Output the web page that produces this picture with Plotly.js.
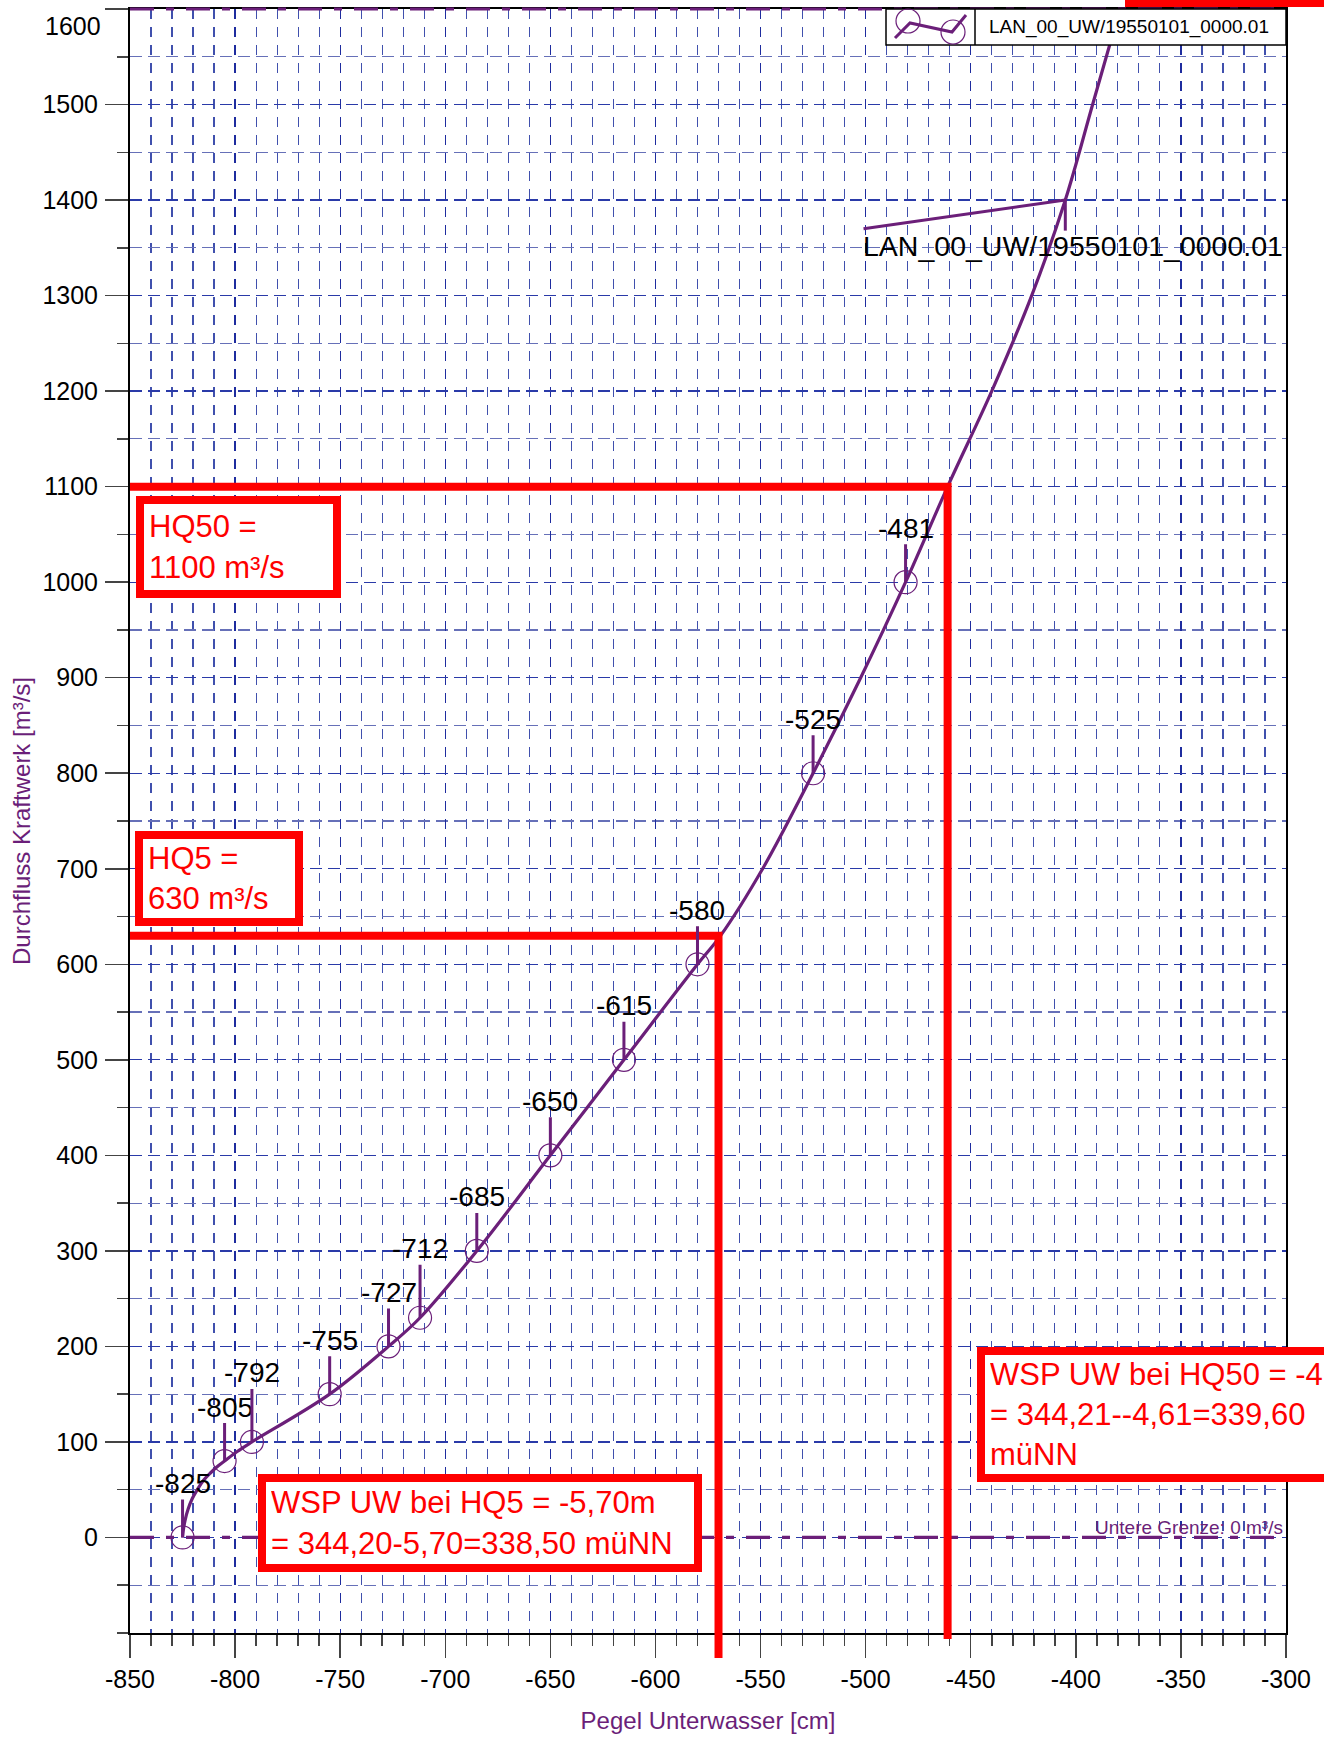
<!DOCTYPE html>
<html><head><meta charset="utf-8">
<script src="https://cdn.plot.ly/plotly-3.0.1.min.js"></script>
<style>html,body{margin:0;padding:0;background:#fff;} #chart{width:1324px;height:1738px;}</style>
</head><body><div id="chart"></div>
<script>
// ---- data ----
const pointPegel = [-825, -805, -792, -755, -727, -712, -685, -650, -615, -580, -525, -481];
const pointQ     = [0, 80, 100, 150, 200, 230, 300, 400, 500, 600, 800, 1000];
const curvePegel = [-825, -824.6, -823.8, -822.3, -820.3, -818, -815, -811.5, -808, -805, -799, -792, -755, -727, -712, -685, -650, -615, -580, -569, -549, -525, -503, -481, -461, -440, -421, -405, -392, -379];
const curveQ     = [0, 8, 18, 30, 41, 50, 60, 68, 75, 80, 90, 100, 150, 200, 230, 300, 400, 500, 600, 630, 700, 800, 897, 1000, 1100, 1200, 1300, 1400, 1500, 1600];
const xTicks = [-850, -800, -750, -700, -650, -600, -550, -500, -450, -400, -350, -300];
const yTicks = [0, 100, 200, 300, 400, 500, 600, 700, 800, 900, 1000, 1100, 1200, 1300, 1400, 1500, 1600];
const hq5Q = 630, hq5Pegel = -570;
const hq50Q = 1100, hq50Pegel = -461;
const leaderPegel = -405, leaderQ = 1400;
const lowerLimitQ = 0, upperLimitQ = 1600;
const seriesName = 'LAN_00_UW/19550101_0000.01';
const longLiftLabels = [-792, -712];

// ---- style ----
const PURPLE = '#6b1f79';
const RED = '#ff0000';
const SANS = 'Liberation Sans, Arial, sans-serif';
const X0 = -850, X1 = -300, Y0 = -100, Y1 = 1600;
const L = 130, T = 9, W = 1156, H = 1624;
const px = v => (v - L) / W;        // pixel -> paper x
const py = v => (T + H - v) / H;    // pixel -> paper y
const qToPaper = q => (q - Y0) / (Y1 - Y0);
const TICKFONT = {family: SANS, size: 25, color: '#000'};

const traces = [
  {x: curvePegel, y: curveQ, type: 'scatter', mode: 'lines',
   line: {color: PURPLE, width: 3.2, shape: 'spline', smoothing: 1}, hoverinfo: 'skip'},
  {x: pointPegel, y: pointQ, type: 'scatter', mode: 'markers',
   marker: {symbol: 'circle-open', size: 23, color: PURPLE, line: {width: 1.2, color: PURPLE}}, cliponaxis: false}
];

const annotations = pointPegel.map((x, i) => ({
  x: x, y: pointQ[i], xref: 'x', yref: 'y', text: String(x),
  showarrow: true, arrowhead: 0, arrowwidth: 3, arrowcolor: PURPLE,
  ax: 0, ay: longLiftLabels.includes(x) ? -69 : -54, standoff: 0, borderpad: 0,
  font: {family: SANS, size: 28, color: '#000'}
}));

function redBox(text, left, top, w, h) {
  return {xref: 'paper', yref: 'paper', x: px(left), y: py(top), xanchor: 'left', yanchor: 'top',
    text: text, showarrow: false, align: 'left', valign: 'middle', width: w, height: h,
    bgcolor: '#ffffff', bordercolor: RED, borderwidth: 8, borderpad: 5,
    font: {family: SANS, size: 31, color: RED}};
}
annotations.push(redBox('HQ50 =<br>1100 m³/s', 136, 496, 179, 76));
annotations.push(redBox('HQ5 =<br>630 m³/s', 135, 831, 142, 69));
annotations.push(redBox('WSP UW bei HQ5 = -5,70m<br>= 344,20-5,70=338,50 müNN', 258, 1474, 418, 72));
annotations.push(redBox('WSP UW bei HQ50 = -4,61m<br>= 344,21--4,61=339,60<br>müNN', 977, 1347, 420, 109));

annotations.push({x: X1, y: lowerLimitQ, xref: 'x', yref: 'y', xanchor: 'right', yanchor: 'bottom',
  text: 'Untere Grenze: 0 m³/s', showarrow: false, borderpad: 0, xshift: -2, yshift: -2,
  font: {family: SANS, size: 19, color: PURPLE}});
annotations.push({x: -501, y: 1370, xref: 'x', yref: 'y', xanchor: 'left', yanchor: 'top',
  text: seriesName, showarrow: false, borderpad: 0, xshift: -2,
  font: {family: SANS, size: 28.5, color: '#000'}});
annotations.push({x: px(988), y: py(27), xref: 'paper', yref: 'paper', xanchor: 'left', yanchor: 'middle',
  text: seriesName, showarrow: false, borderpad: 0,
  font: {family: SANS, size: 19, color: '#000'}});
// top tick label, shifted down inside the page as in the reference
annotations.push({x: px(102), y: py(26), xref: 'paper', yref: 'paper', xanchor: 'right', yanchor: 'middle',
  text: String(yTicks[yTicks.length - 1]), showarrow: false, borderpad: 0, font: TICKFONT});

const limitDash = '24px,12px,8px,12px';
const shapes = [
  {type: 'line', xref: 'x', yref: 'y', x0: X0, x1: X1, y0: lowerLimitQ, y1: lowerLimitQ, line: {color: PURPLE, width: 3.2, dash: limitDash}},
  {type: 'line', xref: 'x', yref: 'paper', x0: X0, x1: X1, y0: qToPaper(upperLimitQ), y1: qToPaper(upperLimitQ), line: {color: PURPLE, width: 3.2, dash: limitDash}},
  // HQ50 guide
  {type: 'path', xref: 'x', yref: 'y', path: `M ${X0},${hq50Q} L ${hq50Pegel},${hq50Q} L ${hq50Pegel},${Y0}`, line: {color: RED, width: 8}},
  {type: 'line', xref: 'x', yref: 'paper', x0: hq50Pegel, x1: hq50Pegel, y0: 0, y1: py(1639), line: {color: RED, width: 8}},
  // HQ5 guide
  {type: 'path', xref: 'x', yref: 'y', path: `M ${X0},${hq5Q} L ${hq5Pegel},${hq5Q} L ${hq5Pegel},${Y0}`, line: {color: RED, width: 8}},
  {type: 'line', xref: 'x', yref: 'paper', x0: hq5Pegel, x1: hq5Pegel, y0: 0, y1: py(1658), line: {color: RED, width: 8}},
  // leader to the curve label
  {type: 'line', xref: 'x', yref: 'y', x0: leaderPegel, y0: leaderQ, x1: -501, y1: 1370, line: {color: PURPLE, width: 3}},
  {type: 'line', xref: 'x', yref: 'y', x0: leaderPegel, y0: leaderQ, x1: leaderPegel, y1: 1368, line: {color: PURPLE, width: 3}},
  // legend box
  {type: 'rect', xref: 'paper', yref: 'paper', x0: px(886), x1: 1, y0: py(45), y1: 1, fillcolor: '#fff', line: {color: '#000', width: 1.5}},
  {type: 'line', xref: 'paper', yref: 'paper', x0: px(975), x1: px(975), y0: py(45), y1: 1, line: {color: '#000', width: 1.5}},
  {type: 'path', xref: 'paper', yref: 'paper',
   path: `M ${px(895)},${py(38)} L ${px(910)},${py(23)} L ${px(952)},${py(32)} L ${px(966)},${py(15)}`, line: {color: PURPLE, width: 3}},
  {type: 'circle', xref: 'paper', yref: 'paper', x0: px(896), x1: px(920), y0: py(33), y1: py(9), line: {color: PURPLE, width: 1.2}},
  {type: 'circle', xref: 'paper', yref: 'paper', x0: px(941), x1: px(965), y0: py(44), y1: py(20), line: {color: PURPLE, width: 1.2}},
  // red band cut at top-right edge
  {type: 'rect', xref: 'paper', yref: 'paper', x0: px(1125), x1: px(1340), y0: py(7), y1: py(-10), fillcolor: RED, line: {width: 0}}
];

const layout = {
  width: 1324, height: 1738,
  margin: {l: L, r: 1324 - L - W, t: T, b: 1738 - T - H},
  paper_bgcolor: '#fff', plot_bgcolor: '#fff',
  showlegend: false,
  xaxis: {
    range: [X0, X1], tickmode: 'array', tickvals: xTicks, ticktext: xTicks.map(String),
    ticks: 'outside', ticklen: 23, tickwidth: 1.5, tickcolor: '#444', ticklabeloverflow: 'allow',
    showline: true, linecolor: '#000', linewidth: 2, mirror: true, zeroline: false,
    showgrid: true, gridcolor: '#1e2c9e', gridwidth: 1.3, griddash: '10px,8px',
    tickfont: TICKFONT,
    minor: {tickmode: 'linear', tick0: X0, dtick: 10, ticks: 'outside', ticklen: 11, tickwidth: 1.5, tickcolor: '#444',
            showgrid: true, gridcolor: '#4050ad', gridwidth: 1.2, griddash: '10px,8px'},
    title: {text: 'Pegel Unterwasser [cm]', font: {family: SANS, size: 24, color: PURPLE}, standoff: 20}
  },
  yaxis: {
    range: [Y0, Y1], tickmode: 'array', tickvals: yTicks,
    ticktext: yTicks.map((v, i) => i === yTicks.length - 1 ? '' : String(v)),
    ticks: 'outside', ticklen: 23, tickwidth: 1.5, tickcolor: '#444', ticklabelstandoff: 2,
    showline: true, linecolor: '#000', linewidth: 2, mirror: true, zeroline: false,
    showgrid: true, gridcolor: '#2a3aa8', gridwidth: 1.3, griddash: '12px,6px',
    tickfont: TICKFONT,
    minor: {tickmode: 'linear', tick0: 0, dtick: 50, ticks: 'outside', ticklen: 11, tickwidth: 1.5, tickcolor: '#444',
            showgrid: true, gridcolor: '#6670b8', gridwidth: 1.2, griddash: '12px,6px'},
    title: {text: 'Durchfluss Kraftwerk [m³/s]', font: {family: SANS, size: 24, color: PURPLE}, standoff: 5}
  },
  shapes: shapes,
  annotations: annotations
};

Plotly.newPlot('chart', traces, layout, {staticPlot: true, displayModeBar: false});
</script></body></html>
